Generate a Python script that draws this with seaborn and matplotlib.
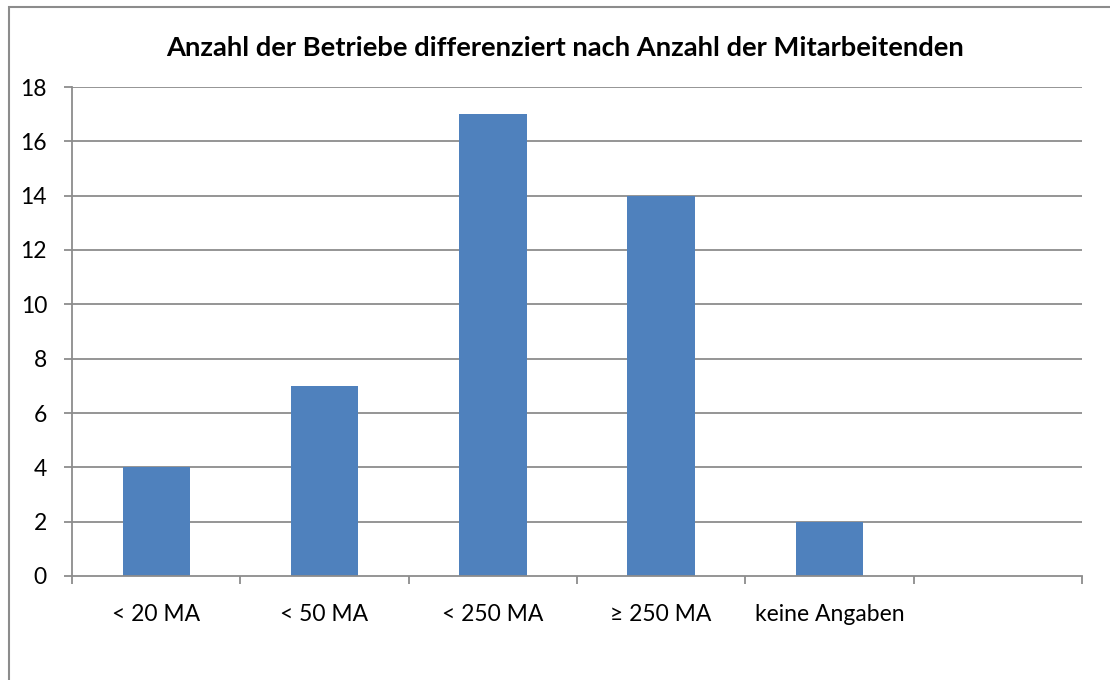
import matplotlib
matplotlib.use("Agg")
import matplotlib.pyplot as plt
import seaborn as sns
import pandas as pd
from matplotlib.patches import Rectangle

categories = ["< 20 MA", "< 50 MA", "< 250 MA", "≥ 250 MA", "keine Angaben"]
values = [4, 7, 17, 14, 2]
title = "Anzahl der Betriebe differenziert nach Anzahl der Mitarbeitenden"
yticks = [0, 2, 4, 6, 8, 10, 12, 14, 16, 18]

sns.set_theme(style="white")
plt.rcParams['font.family'] = ['Lato', 'DejaVu Sans']

W, H = 1110, 680
fig = plt.figure(figsize=(W / 100, H / 100), dpi=100)
ax = fig.add_axes([72 / W, 1 - 576 / H, (1082 - 72) / W, (576 - 87) / H])

df = pd.DataFrame({"cat": categories, "val": values})
sns.barplot(data=df, x="cat", y="val", color="#4F81BD", saturation=1, width=0.4,
            ax=ax, zorder=3, linewidth=0)

grid_c = "#8C8C8C"
ax.set_xlim(-0.5, 5.5)
ax.set_ylim(0, 18)
ax.set_yticks(yticks)
ax.set_yticklabels([str(v) for v in yticks], fontsize=16.5, color="black")
for v in yticks[1:]:
    ax.axhline(v, color=grid_c, lw=1.3, zorder=1)
ax.set_xticks(range(len(categories)))
ax.set_xticklabels(categories, fontsize=16.5, color="black")
ax.tick_params(axis="x", which="major", length=0, pad=20, bottom=True)
ax.set_xticks([i - 0.5 for i in range(7)], minor=True)
ax.tick_params(axis="x", which="minor", length=6, width=1.3, color=grid_c,
               direction="out", bottom=True)
ax.tick_params(axis="y", which="major", length=6, width=1.3, color=grid_c,
               direction="out", pad=12, left=True)
ax.set_xlabel("")
ax.set_ylabel("")
for s in ["top", "right"]:
    ax.spines[s].set_visible(False)
for s in ["left", "bottom"]:
    ax.spines[s].set_color(grid_c)
    ax.spines[s].set_linewidth(1.3)
    ax.spines[s].set_zorder(4)

fig.text(565 / W, 1 - 48 / H, title, ha="center", va="center",
         fontsize=19.7, fontweight="bold", color="black")

fig.patches.append(Rectangle((8.5 / W, -0.1), 1.2, 1 - 7.5 / H + 0.1, transform=fig.transFigure,
                             fill=False, edgecolor="#8C8C8C", lw=1.5, figure=fig))

fig.savefig("out.png", dpi=100, facecolor="white")
